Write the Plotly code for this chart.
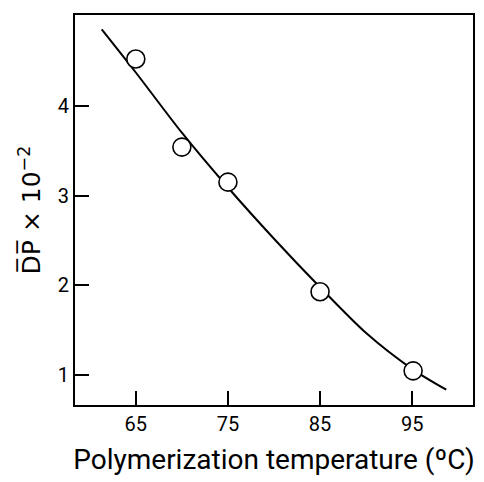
import plotly.graph_objects as go

# Measured data points
temp_pts = [65, 70, 75, 85, 95.1]
dp_pts = [4.52, 3.54, 3.15, 1.93, 1.05]

# Fitted curve
curve_x = [61.3, 65, 70, 75, 80, 85, 90, 95, 98.7]
curve_y = [4.85, 4.37, 3.70, 3.09, 2.52, 1.98, 1.47, 1.07, 0.84]

x_ticks = [65, 75, 85, 95]
y_ticks = [1, 2, 3, 4]

FONT = "Roboto"
X_RANGE = [58.4, 101.6]
Y_RANGE = [0.67, 5.01]

fig = go.Figure()
fig.add_trace(go.Scatter(
    x=curve_x, y=curve_y, mode="lines",
    line=dict(color="black", width=2, shape="spline", smoothing=0.8),
    showlegend=False, hoverinfo="skip"))
fig.add_trace(go.Scatter(
    x=temp_pts, y=dp_pts, mode="markers",
    marker=dict(symbol="circle", size=18, color="white",
                line=dict(color="black", width=1.6)),
    showlegend=False))
# invisible trace to anchor the top/right frame axes
fig.add_trace(go.Scatter(
    x=temp_pts, y=dp_pts, mode="markers", xaxis="x2", yaxis="y2",
    marker=dict(opacity=0), showlegend=False, hoverinfo="skip"))

axis_common = dict(showline=True, linecolor="black", linewidth=2, mirror=True,
                   ticks="inside", ticklen=14, tickwidth=1.5, tickcolor="black",
                   showgrid=False, zeroline=False, automargin=False,
                   tickfont=dict(family=FONT, size=20, color="black"))

fig.update_layout(
    xaxis=dict(range=X_RANGE, tickvals=x_ticks,
               ticktext=[str(v) for v in x_ticks],
               title=dict(text="Polymerization temperature (ºC)",
                          font=dict(family=FONT, size=28, color="black"),
                          standoff=14),
               **axis_common),
    yaxis=dict(range=Y_RANGE, tickvals=y_ticks,
               ticktext=[str(v) for v in y_ticks],
               title=dict(text="D\u0305P\u0305 × 10<sup>−2</sup>",
                          font=dict(family="DejaVu Sans", size=25, color="black"),
                          standoff=10),
               **axis_common),
    xaxis2=dict(range=X_RANGE, overlaying="x", side="top", anchor="y2",
                showline=True, linecolor="black", linewidth=2, ticks="",
                showticklabels=False, showgrid=False, zeroline=False),
    yaxis2=dict(range=Y_RANGE, overlaying="y", side="right", anchor="x2",
                showline=True, linecolor="black", linewidth=2, ticks="",
                showticklabels=False, showgrid=False, zeroline=False),
)

fig.update_layout(width=484, height=482,
                  margin=dict(l=75, r=11, t=15, b=77),
                  paper_bgcolor="white", plot_bgcolor="white")

fig.write_html("out.html", config={"displayModeBar": False},
               post_script="document.body.style.margin='0';"
                           "document.body.style.overflow='hidden';")
